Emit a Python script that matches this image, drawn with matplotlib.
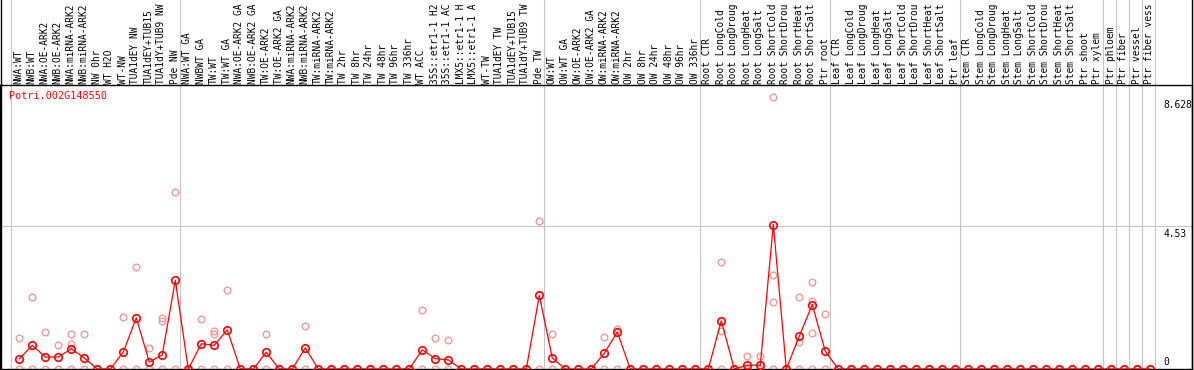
import matplotlib
matplotlib.use("Agg")
import matplotlib.pyplot as plt
import matplotlib.transforms as mtransforms
from matplotlib.lines import Line2D

title = "Potri.002G148550"

# sample names as they show in the label band (long ones are cut there)
labels = [
    "NWA:WT", "NWB:WT", "NWA:OE-ARK2", "NWB:OE-ARK2", "NWA:miRNA-ARK2",
    "NWB:miRNA-ARK2", "NW 0hr", "WT H2O", "WT-NW", "TUA1dEY NW",
    "TUA1dEY+TUB15", "TUA1dY+TUB9 NW", "Pde NW",
    "NWA:WT GA", "NWBWT GA", "TW:WT", "TW:WT GA", "NWA:OE-ARK2 GA",
    "NWB:OE-ARK2 GA", "TW:OE-ARK2", "TW:OE-ARK2 GA", "NWA:miRNA-ARK2",
    "NWB:miRNA-ARK2", "TW:miRNA-ARK2", "TW:miRNA-ARK2", "TW 2hr", "TW 8hr",
    "TW 24hr", "TW 48hr", "TW 96hr", "TW 336hr", "WT ACC",
    "35S::etr1-1 H2", "35S::etr1-1 AC", "LMX5::etr1-1 H",
    "LMX5::etr1-1 A", "WT-TW", "TUA1dEY TW", "TUA1dEY+TUB15",
    "TUA1dY+TUB9 TW", "Pde TW",
    "OW:WT", "OW:WT GA", "OW:OE-ARK2", "OW:OE-ARK2 GA", "OW:miRNA-ARK2",
    "OW:miRNA-ARK2", "OW 2hr", "OW 8hr", "OW 24hr", "OW 48hr", "OW 96hr",
    "OW 336hr",
    "Root CTR", "Root LongCold", "Root LongDroug", "Root LongHeat",
    "Root LongSalt", "Root ShortCold", "Root ShortDrou", "Root ShortHeat",
    "Root ShortSalt", "Ptr root",
    "Leaf CTR", "Leaf LongCold", "Leaf LongDroug", "Leaf LongHeat",
    "Leaf LongSalt", "Leaf ShortCold", "Leaf ShortDrou", "Leaf ShortHeat",
    "Leaf ShortSalt", "Ptr leaf",
    "Stem CTR", "Stem LongCold", "Stem LongDroug", "Stem LongHeat",
    "Stem LongSalt", "Stem ShortCold", "Stem ShortDrou", "Stem ShortHeat",
    "Stem ShortSalt", "Ptr shoot", "Ptr xylem",
    "Ptr phloem", "Ptr fiber", "Ptr vessel", "Ptr fiber vess",
]

# mean expression per sample (red line)
means = [
    0.32, 0.75, 0.38, 0.38, 0.64, 0.35, 0, 0, 0.54, 1.62, 0.22, 0.45, 2.81,
    0, 0.80, 0.75, 1.24, 0, 0, 0.53, 0, 0, 0.67, 0, 0, 0, 0, 0, 0, 0, 0,
    0.61, 0.33, 0.29, 0, 0, 0, 0, 0, 0, 2.33,
    0.35, 0, 0, 0, 0.50, 1.17, 0, 0, 0, 0, 0, 0,
    0, 1.53, 0, 0.12, 0.12, 4.58, 0, 1.04, 2.04, 0.56,
    0, 0, 0, 0, 0, 0, 0, 0, 0, 0,
    0, 0, 0, 0, 0, 0, 0, 0, 0, 0, 0,
    0, 0, 0, 0,
]

# replicate values per sample (faint circles)
reps = [
    [0.98, 0], [2.29, 0], [1.18, 0], [0.75, 0], [1.11, 0.80, 0], [1.11, 0],
    [0], [0], [1.65, 0], [3.24, 0], [0.66, 0], [1.63, 1.51, 0], [5.61, 0],
    [0], [1.58, 0], [1.22, 1.11, 0], [2.51, 0], [0], [0], [1.11, 0], [0],
    [0], [1.36, 0], [0], [0], [0], [0], [0], [0], [0], [0],
    [1.87, 0], [0.98, 0], [0.93, 0], [0], [0], [0], [0], [0], [0], [4.68, 0],
    [1.11, 0], [0], [0], [0], [1.02, 0], [1.27, 0], [0], [0], [0], [0], [0], [0],
    [0], [3.40, 1.19, 0], [0], [0.42, 0], [0.42, 0], [8.628, 2.98, 2.13, 0],
    [0], [2.29, 0.85, 0], [2.76, 2.17, 1.15, 0], [1.74, 0],
    [0], [0], [0], [0], [0], [0], [0], [0], [0], [0],
    [0], [0], [0], [0], [0], [0], [0], [0], [0], [0], [0],
    [0], [0], [0], [0],
]

group_ends = [-1, 12, 40, 52, 62, 72, 83, 84, 85, 86, 87]
yticks = [8.628, 4.53, 0]

W, H = 1194, 370
fig = plt.figure(figsize=(W / 100, H / 100), dpi=100)
top_px, bot_px, right_px = 85, 369, 1192
ax = fig.add_axes([0, (H - bot_px) / H, right_px / W, (bot_px - top_px) / H])

px_unit = 13.0
x0 = -19.3 / px_unit
ax.set_xlim(x0, x0 + right_px / px_unit)
ax.set_ylim(0, (bot_px - top_px) / 31.55)
ax.set_xticks([])
ax.set_yticks([])
for s in ax.spines.values():
    s.set_linewidth(1.0)
    s.set_color("black")

mono = "DejaVu Sans Mono"
grey = "#c4c4c4"

# group separators, running up through the label band
ext = H / (bot_px - top_px)
for g in group_ends:
    ax.axvline(g + 0.36, ymin=0, ymax=ext, color=grey, lw=0.8, clip_on=False, zorder=1)
ax.axhline(4.53, color=grey, lw=0.8, zorder=1)

# replicates
for i, vals in enumerate(reps):
    ax.plot([i] * len(vals), vals, "o", ms=4.8, mfc="none", mec="#f09898",
            mew=1.0, zorder=2, clip_on=True)

ax.plot(range(len(means)), means, "-", color="#ff0000", lw=0.9, zorder=3)
ax.plot(range(len(means)), means, "o", ms=5.4, mfc="none", mec="#ff0000",
        mew=1.2, zorder=4)

# sample labels above the plot
lab_tr = mtransforms.blended_transform_factory(ax.transData, ax.transAxes)
lab_tr = lab_tr + mtransforms.ScaledTranslation(-0.8 / 100, 1.5 / 100, fig.dpi_scale_trans)
for i, lab in enumerate(labels):
    ax.text(i, 1.0, lab, rotation=90, ha="center", va="bottom", fontsize=6.85,
            family=mono, transform=lab_tr, clip_on=False)

# value labels on the right
xr = (1163 - 19.3) / px_unit
for v in yticks:
    if v == 0:
        off = mtransforms.ScaledTranslation(0, 2 / 100, fig.dpi_scale_trans)
        va = "bottom"
    else:
        off = mtransforms.ScaledTranslation(0, -3 / 100, fig.dpi_scale_trans)
        va = "top"
    ax.text(xr, v, str(v), ha="left", va=va, fontsize=6.9, family=mono,
            transform=ax.transData + off)

fig.text(9 / W, 1 - 91 / H, title, color="#ff0000", fontsize=7.3, family=mono,
         ha="left", va="top")

# outer left/right borders through the label band
fig.add_artist(Line2D([0.5 / W, 0.5 / W], [0, 1], color="black", lw=1.0))
fig.add_artist(Line2D([right_px / W, right_px / W], [0, 1], color="black", lw=1.0))

fig.savefig("out.png", dpi=100)
